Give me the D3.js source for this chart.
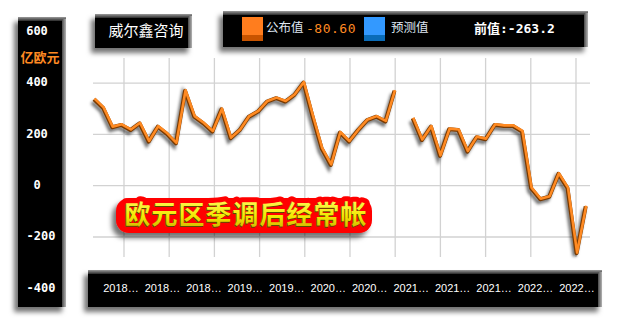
<!DOCTYPE html>
<html>
<head>
<meta charset="utf-8">
<script src="https://d3js.org/d3.v7.min.js"></script>
<style>
body { margin: 0; background: #fff; }
svg { display: block; }
</style>
</head>
<body>
<div id="chart"></div>
<script>
// monthly values, 亿欧元 (Mar 2018 .. Sep 2022), one missing month
const values = [337, 303, 228, 237, 217, 243, 172, 230, 202, 165,
                370, 269, 243, 211, 298, 185, 217, 269, 289, 328,
                341, 328, 354, 402, 270, 145, 81, 207, 172, 217,
                256, 269, 250, 370, null,
                263, 178, 230, 116, 220, 217, 133, 189, 181, 237,
                233, 233, 211, -10, -53, -43, 46, -10, -263.2, -80.6];
const months = d3.timeMonths(new Date(2018, 2, 1), new Date(2022, 9, 1)).map(d3.timeFormat("%Y年%m月"));
const xLabels = ["2018…", "2018…", "2018…", "2019…", "2019…", "2020…",
                 "2020…", "2021…", "2021…", "2021…", "2022…", "2022…"];
const yTicks = [600, 400, 200, 0, -200, -400];
const gridTicks = [400, 200, 0, -200];
const unitLabel = "亿欧元";
const sourceName = "威尔鑫咨询";
const chartName = "欧元区季调后经常帐";
const publishedValue = "-80.60";
const previousValue = "-263.2";

const W = 627, H = 324;
const orange = "#ff8a22";

const svg = d3.select("#chart").append("svg")
    .attr("width", W)
    .attr("height", H);
const defs = svg.append("defs");

// soft shadow used by the black panels and the red badge
const shadow = defs.append("filter").attr("id", "shadow")
    .attr("x", "-20%").attr("y", "-30%").attr("width", "140%").attr("height", "160%");
shadow.append("feDropShadow")
    .attr("dx", -4).attr("dy", 5).attr("stdDeviation", 2.5)
    .attr("flood-color", "#000").attr("flood-opacity", 0.55);

const blur = defs.append("filter").attr("id", "blur");
blur.append("feGaussianBlur").attr("stdDeviation", 1.8);

const topBevel = defs.append("linearGradient").attr("id", "topBevel")
    .attr("x1", 0).attr("y1", 0).attr("x2", 0).attr("y2", 1);
topBevel.append("stop").attr("offset", "0%").attr("stop-color", "#9c9c9c");
topBevel.append("stop").attr("offset", "100%").attr("stop-color", "#2a2a2a");

const rightBevel = defs.append("linearGradient").attr("id", "rightBevel")
    .attr("x1", 0).attr("y1", 0).attr("x2", 1).attr("y2", 0);
rightBevel.append("stop").attr("offset", "0%").attr("stop-color", "#4a4a4a");
rightBevel.append("stop").attr("offset", "100%").attr("stop-color", "#b4b4b4");

const yellow = defs.append("linearGradient").attr("id", "yellow")
    .attr("x1", 0).attr("y1", 0).attr("x2", 0).attr("y2", 1);
yellow.append("stop").attr("offset", "0%").attr("stop-color", "#ffff70");
yellow.append("stop").attr("offset", "60%").attr("stop-color", "#f4e800");
yellow.append("stop").attr("offset", "100%").attr("stop-color", "#c8a800");

function panel(x, y, w, h) {
    const g = svg.append("g").attr("filter", "url(#shadow)");
    g.append("rect").attr("x", x).attr("y", y).attr("width", w).attr("height", h).attr("fill", "#000");
    g.append("rect").attr("x", x).attr("y", y).attr("width", w).attr("height", 4).attr("fill", "url(#topBevel)");
    g.append("rect").attr("x", x + w - 4).attr("y", y + 2).attr("width", 4).attr("height", h - 2)
        .attr("fill", "url(#rightBevel)");
    return g;
}

// scales
const x = d3.scalePoint().domain(months).range([94, 585.7]);
const y = d3.scaleLinear().domain([-400, 600]).range([288.3, 31.8]);
const xl = d3.scalePoint().domain(d3.range(xLabels.length)).range([121, 577]);

// grid
const grid = svg.append("g").attr("stroke", "#d2d2d2").attr("stroke-width", 1.3);
grid.selectAll("line.h")
    .data(gridTicks)
    .enter()
    .append("line")
    .attr("class", "h")
    .attr("x1", 93).attr("x2", 590)
    .attr("y1", d => y(d)).attr("y2", d => y(d));
grid.selectAll("line.v")
    .data(d3.range(11))
    .enter()
    .append("line")
    .attr("class", "v")
    .attr("x1", d => 124 + d * 45.2).attr("x2", d => 124 + d * 45.2)
    .attr("y1", 58).attr("y2", 257);

// series line
const line = d3.line()
    .defined(d => d != null)
    .x((d, i) => x(months[i]))
    .y(d => y(d));

svg.append("path").datum(values)
    .attr("d", line)
    .attr("fill", "none")
    .attr("stroke", "#000")
    .attr("stroke-opacity", 0.55)
    .attr("stroke-width", 4)
    .attr("transform", "translate(-2,3)")
    .attr("filter", "url(#blur)");
svg.append("path").datum(values)
    .attr("d", line)
    .attr("fill", "none")
    .attr("stroke", "#7a3a00")
    .attr("stroke-width", 4)
    .attr("stroke-linejoin", "round");
svg.append("path").datum(values)
    .attr("d", line)
    .attr("fill", "none")
    .attr("stroke", orange)
    .attr("stroke-width", 2.6)
    .attr("stroke-linejoin", "round")
    .attr("transform", "translate(0.5,-0.6)");

// left axis panel
panel(18, 17, 48, 290);
svg.append("g").selectAll("text")
    .data(yTicks)
    .enter()
    .append("text")
    .attr("x", d => d < 0 ? 41 : 37)
    .attr("y", d => y(d) - 1)
    .attr("dy", "0.35em")
    .attr("text-anchor", "middle")
    .attr("fill", "#fff")
    .attr("font-family", "DejaVu Sans Mono")
    .attr("font-weight", "bold")
    .attr("font-size", "12px")
    .text(d => d);
svg.append("text")
    .attr("x", 40).attr("y", 57).attr("dy", "0.35em")
    .attr("text-anchor", "middle")
    .attr("fill", orange)
    .attr("font-family", "Noto Sans CJK SC")
    .attr("font-weight", "bold")
    .attr("font-size", "13px")
    .text(unitLabel);

// source box
panel(95, 14, 97, 34);
svg.append("text")
    .attr("x", 146).attr("y", 31).attr("dy", "0.35em")
    .attr("text-anchor", "middle")
    .attr("fill", "#fff")
    .attr("font-family", "Noto Sans CJK SC")
    .attr("font-size", "15px")
    .text(sourceName);

// legend box
panel(223, 11, 365, 36);
const legend = svg.append("g");
legend.append("rect").attr("x", 242).attr("y", 17).attr("width", 21).attr("height", 24).attr("fill", "#ff7d1e");
legend.append("rect").attr("x", 242).attr("y", 35).attr("width", 21).attr("height", 6).attr("fill", "#c85400");
legend.append("rect").attr("x", 364).attr("y", 17).attr("width", 21).attr("height", 24).attr("fill", "#3399ff");
legend.append("rect").attr("x", 364).attr("y", 35).attr("width", 21).attr("height", 6).attr("fill", "#0a6cb8");
legend.append("text").attr("x", 266).attr("y", 28).attr("dy", "0.35em")
    .attr("fill", "#dfe6f2").attr("font-family", "Noto Sans CJK SC").attr("font-size", "12.5px")
    .text("公布值");
legend.append("text").attr("x", 306).attr("y", 28).attr("dy", "0.35em")
    .attr("fill", orange).attr("font-family", "DejaVu Sans Mono").attr("font-size", "13px")
    .attr("letter-spacing", "0.5px")
    .text(publishedValue);
legend.append("text").attr("x", 391).attr("y", 28).attr("dy", "0.35em")
    .attr("fill", "#dfe6f2").attr("font-family", "Noto Sans CJK SC").attr("font-size", "12.5px")
    .text("预测值");
legend.append("text").attr("x", 474).attr("y", 28).attr("dy", "0.35em")
    .attr("fill", "#fff").attr("font-family", "DejaVu Sans Mono, Noto Sans CJK SC")
    .attr("font-weight", "bold").attr("font-size", "13px")
    .text("前值:" + previousValue);

// bottom axis bar
panel(88, 270, 514, 37);
svg.append("g").selectAll("text")
    .data(xLabels)
    .enter()
    .append("text")
    .attr("x", (d, i) => xl(i))
    .attr("y", 288).attr("dy", "0.35em")
    .attr("text-anchor", "middle")
    .attr("fill", "#fff")
    .attr("font-family", "Liberation Sans")
    .attr("font-size", "11px")
    .text(d => d);

// red title badge
const badge = svg.append("g").attr("filter", "url(#shadow)");
badge.append("rect")
    .attr("x", 116).attr("y", 198).attr("width", 256).attr("height", 35).attr("rx", 13)
    .attr("fill", "#ff0000");
badge.append("text")
    .attr("x", 246).attr("y", 215).attr("dy", "0.36em")
    .attr("text-anchor", "middle")
    .attr("font-family", "Noto Sans CJK SC").attr("font-weight", "bold")
    .attr("font-size", "26px").attr("letter-spacing", "1px")
    .attr("fill", "#ff0000").attr("stroke", "#ff0000").attr("stroke-width", 10)
    .attr("stroke-linejoin", "round")
    .text(chartName);
svg.append("text")
    .attr("x", 245).attr("y", 216).attr("dy", "0.36em")
    .attr("text-anchor", "middle")
    .attr("font-family", "Noto Sans CJK SC").attr("font-weight", "bold")
    .attr("font-size", "26px").attr("letter-spacing", "1px")
    .attr("fill", "#5a4a00")
    .text(chartName);
svg.append("text")
    .attr("x", 246).attr("y", 215).attr("dy", "0.36em")
    .attr("text-anchor", "middle")
    .attr("font-family", "Noto Sans CJK SC").attr("font-weight", "bold")
    .attr("font-size", "26px").attr("letter-spacing", "1px")
    .attr("fill", "url(#yellow)")
    .text(chartName);
</script>
</body>
</html>
